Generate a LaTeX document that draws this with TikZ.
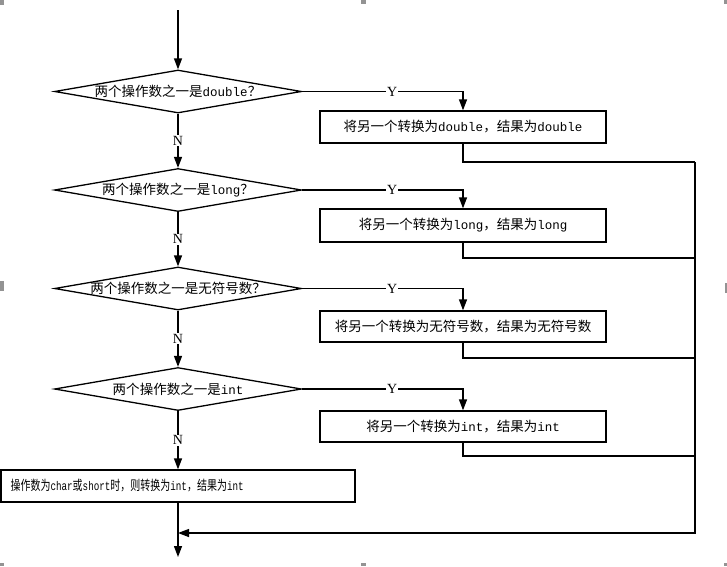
\documentclass[tikz,border=0pt]{standalone}
\usepackage{fontspec}
\usepackage{graphicx}
\usetikzlibrary{shapes.geometric,arrows.meta}
\setmainfont{Liberation Serif}
\newfontfamily\zhf{Noto Sans CJK SC}
\newfontfamily\lmf{Liberation Mono}
\newcommand\zh[1]{{\zhf\fontsize{13.5}{15}\selectfont #1}}
\newcommand\la[1]{{\lmf\fontsize{12.5}{15}\selectfont #1}}
\begin{document}
\begin{tikzpicture}[x=1pt,y=-1pt,
  line/.style={line width=1.3pt},
  arr/.style={line width=1.3pt,-{Triangle[length=11pt,width=8pt]}},
  dia/.style={diamond,draw,line width=1.3pt,minimum width=247pt,minimum height=43pt,inner sep=0pt},
  box/.style={rectangle,draw,line width=1.3pt,minimum width=286pt,minimum height=32pt,inner sep=0pt},
  yn/.style={fill=white,inner sep=1pt,font=\fontsize{14}{14}\selectfont},
  handle/.style={fill=gray!85,draw=none}]
\useasboundingbox (0,0) rectangle (727,566);
% selection handles
\fill[handle] (0,0) rectangle (4,5);
\fill[handle] (361,0) rectangle (366,4);
\fill[handle] (724,0) rectangle (727,4);
\fill[handle] (0,281) rectangle (4,291);
\fill[handle] (725,283) rectangle (727,293);
\fill[handle] (0,563) rectangle (4,566);
\fill[handle] (361,563) rectangle (366,566);
\fill[handle] (724,563) rectangle (727,566);

\coordinate (start) at (178,10);
\node[dia,label={center:\zh{两个操作数之一是}\la{double}\zh{？}}] (d1) at (178,91.5) {};
\node[dia,label={center:\zh{两个操作数之一是}\la{long}\zh{？}}] (d2) at (178,190) {};
\node[dia,label={center:\zh{两个操作数之一是无符号数？}}] (d3) at (178,288.5) {};
\node[dia,label={center:\zh{两个操作数之一是}\la{int}}] (d4) at (178,389) {};

\node[box] (b1) at (463,127) {\zh{将另一个转换为}\la{double}\zh{，结果为}\la{double}};
\node[box,minimum height=33pt] (b2) at (463,225.5) {\zh{将另一个转换为}\la{long}\zh{，结果为}\la{long}};
\node[box,minimum height=31pt] (b3) at (463,326.5) {\zh{将另一个转换为无符号数，结果为无符号数}};
\node[box,minimum height=31pt] (b4) at (463,426.5) {\zh{将另一个转换为}\la{int}\zh{，结果为}\la{int}};
\node[box,minimum width=354pt,
  label={[anchor=west,xshift=10pt,inner sep=0pt]west:\scalebox{0.74}[1]{\zh{操作数为}\la{char}\zh{或}\la{short}\zh{时，则转换为}\la{int}\zh{，结果为}\la{int}}}] (b5) at (178,486) {};

\coordinate (c1) at (695,162);
\coordinate (c2) at (695,258);
\coordinate (c3) at (695,358);
\coordinate (c4) at (695,456);
\coordinate (m) at (178,533);
\coordinate (e) at (178,557);

\draw[arr] (start) -- (d1.north);
\draw[arr] (d1.south) -- node[yn]{N} (d2.north);
\draw[arr] (d2.south) -- node[yn]{N} (d3.north);
\draw[arr] (d3.south) -- node[yn]{N} (d4.north);
\draw[arr] (d4.south) -- node[yn]{N} (b5.north);

\draw[arr] (d1.east) -| node[yn,pos=0.28]{Y} (b1.north);
\draw[arr] (d2.east) -| node[yn,pos=0.28]{Y} (b2.north);
\draw[arr] (d3.east) -| node[yn,pos=0.28]{Y} (b3.north);
\draw[arr] (d4.east) -| node[yn,pos=0.28]{Y} (b4.north);

\draw[line] (b1.south) |- (c1);
\draw[line] (b2.south) |- (c2);
\draw[line] (b3.south) |- (c3);
\draw[line] (b4.south) |- (c4);
\draw[arr] (c1) |- (m);
\draw[arr] (b5.south) -- (e);
\end{tikzpicture}
\end{document}
